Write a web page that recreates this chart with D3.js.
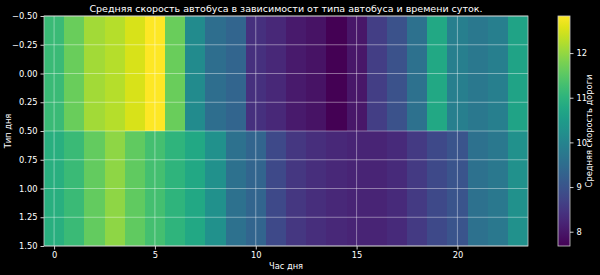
<html>
<head>
    <script src="https://d3js.org/d3.v7.min.js"></script>
    <style>
        body { margin: 0; background: #000; }
        text { font-family: "DejaVu Sans", sans-serif; fill: #fff; }
    </style>
</head>
<body>
    <svg id="svg" width="600" height="275"></svg>
    <script>
        // **** Data ****
        const hours = d3.range(24)
        const dayTypes = [0, 1]
        const speedType0 = [11.18, 11.65, 12.11, 12.26, 12.52, 12.83, 11.65, 10.15, 9.53, 9.33, 8.40, 8.25,
            8.04, 7.94, 7.68, 7.99, 8.61, 8.97, 9.59, 10.77, 9.89, 9.74, 9.89, 10.67]
        const speedType1 = [10.92, 11.18, 11.59, 11.95, 11.57, 11.29, 11.03, 10.77, 10.26, 9.59, 9.33, 8.81,
            8.50, 8.35, 8.25, 8.20, 8.20, 8.30, 8.56, 8.81, 9.02, 9.59, 9.74, 10.26]
        const xTicks = [0, 5, 10, 15, 20]
        const yTicks = [-0.5, -0.25, 0, 0.25, 0.5, 0.75, 1, 1.25, 1.5]
        const cbTicks = [8, 9, 10, 11, 12]

        const title = 'Средняя скорость автобуса в зависимости от типа автобуса и времени суток.'

        const cells = []
        dayTypes.forEach((t, r) => {
            const row = r === 0 ? speedType0 : speedType1
            hours.forEach((h, i) => cells.push({ type: t, hour: h, v: row[i] }))
        })

        const pLeft = 44, pRight = 528, pTop = 16, pBottom = 246
        const svg = d3.select('#svg')

        const x = d3.scaleLinear().domain([-0.5, 23.5]).range([pLeft, pRight])
        const y = d3.scaleLinear().domain([-0.5, 1.5]).range([pTop, pBottom])
        const ext = d3.extent(cells, d => d.v)
        const color = d3.scaleSequential(d3.interpolateViridis).domain(ext)

        // heatmap cells
        svg.append('g').selectAll('rect')
            .data(cells)
            .enter()
            .append('rect')
            .attr('x', d => x(d.hour - 0.5))
            .attr('y', d => y(d.type - 0.5))
            .attr('width', d => x(d.hour + 0.5) - x(d.hour - 0.5) + 0.3)
            .attr('height', d => y(d.type + 0.5) - y(d.type - 0.5))
            .attr('fill', d => color(d.v))
            .attr('shape-rendering', 'crispEdges')

        // grid
        const grid = svg.append('g').attr('stroke', '#fff').attr('stroke-opacity', 0.45).attr('stroke-width', 0.9)
        grid.selectAll('.gx').data(xTicks).enter().append('line')
            .attr('x1', d => x(d)).attr('x2', d => x(d)).attr('y1', pTop).attr('y2', pBottom)
        grid.selectAll('.gy').data(yTicks).enter().append('line')
            .attr('x1', pLeft).attr('x2', pRight).attr('y1', d => y(d)).attr('y2', d => y(d))

        // axes
        const fmtY = d => d3.format('.2f')(d).replace('-', '−')
        const xAxis = svg.append('g').attr('transform', `translate(0,${pBottom})`)
            .call(d3.axisBottom(x).tickValues(xTicks).tickSize(3.5).tickPadding(3))
        const yAxis = svg.append('g').attr('transform', `translate(${pLeft},0)`)
            .call(d3.axisLeft(y).tickValues(yTicks).tickFormat(fmtY).tickSize(3.5).tickPadding(3))
        ;[xAxis, yAxis].forEach(a => {
            a.select('.domain').remove()
            a.selectAll('line').attr('stroke', '#fff').attr('stroke-width', 0.8)
            a.selectAll('text').style('font-size', '8.3px').attr('fill', '#fff')
        })

        // spines
        svg.append('rect')
            .attr('x', pLeft).attr('y', pTop).attr('width', pRight - pLeft).attr('height', pBottom - pTop)
            .attr('fill', 'none').attr('stroke', '#ccc').attr('stroke-width', 0.8)

        // labels
        svg.append('text').attr('x', (pLeft + pRight) / 2).attr('y', 12)
            .attr('text-anchor', 'middle').style('font-size', '9.5px').text(title)
        svg.append('text').attr('x', (pLeft + pRight) / 2).attr('y', 269)
            .attr('text-anchor', 'middle').style('font-size', '8.3px').text('Час дня')
        svg.append('text').attr('transform', `translate(11,${(pTop + pBottom) / 2}) rotate(-90)`)
            .attr('text-anchor', 'middle').style('font-size', '8.3px').text('Тип дня')

        // colorbar
        const cbL = 558, cbW = 12
        const defs = svg.append('defs')
        const grad = defs.append('linearGradient').attr('id', 'cb')
            .attr('x1', 0).attr('y1', 1).attr('x2', 0).attr('y2', 0)
        d3.range(0, 1.0001, 0.05).forEach(t => {
            grad.append('stop').attr('offset', t).attr('stop-color', d3.interpolateViridis(t))
        })
        const cy = d3.scaleLinear().domain(ext).range([pBottom, pTop])
        svg.append('rect')
            .attr('x', cbL).attr('y', pTop).attr('width', cbW).attr('height', pBottom - pTop)
            .attr('fill', 'url(#cb)').attr('stroke', '#ccc').attr('stroke-width', 0.8)
        const cbAxis = svg.append('g').attr('transform', `translate(${cbL + cbW},0)`)
            .call(d3.axisRight(cy).tickValues(cbTicks).tickFormat(d3.format('d')).tickSize(3.5).tickPadding(3))
        cbAxis.select('.domain').remove()
        cbAxis.selectAll('line').attr('stroke', '#fff').attr('stroke-width', 0.8)
        cbAxis.selectAll('text').style('font-size', '8.3px').attr('fill', '#fff')
        svg.append('text').attr('transform', `translate(592,${(pTop + pBottom) / 2}) rotate(-90)`)
            .attr('text-anchor', 'middle').style('font-size', '8.3px').text('Средняя скорость дороги')
    </script>
</body>
</html>
